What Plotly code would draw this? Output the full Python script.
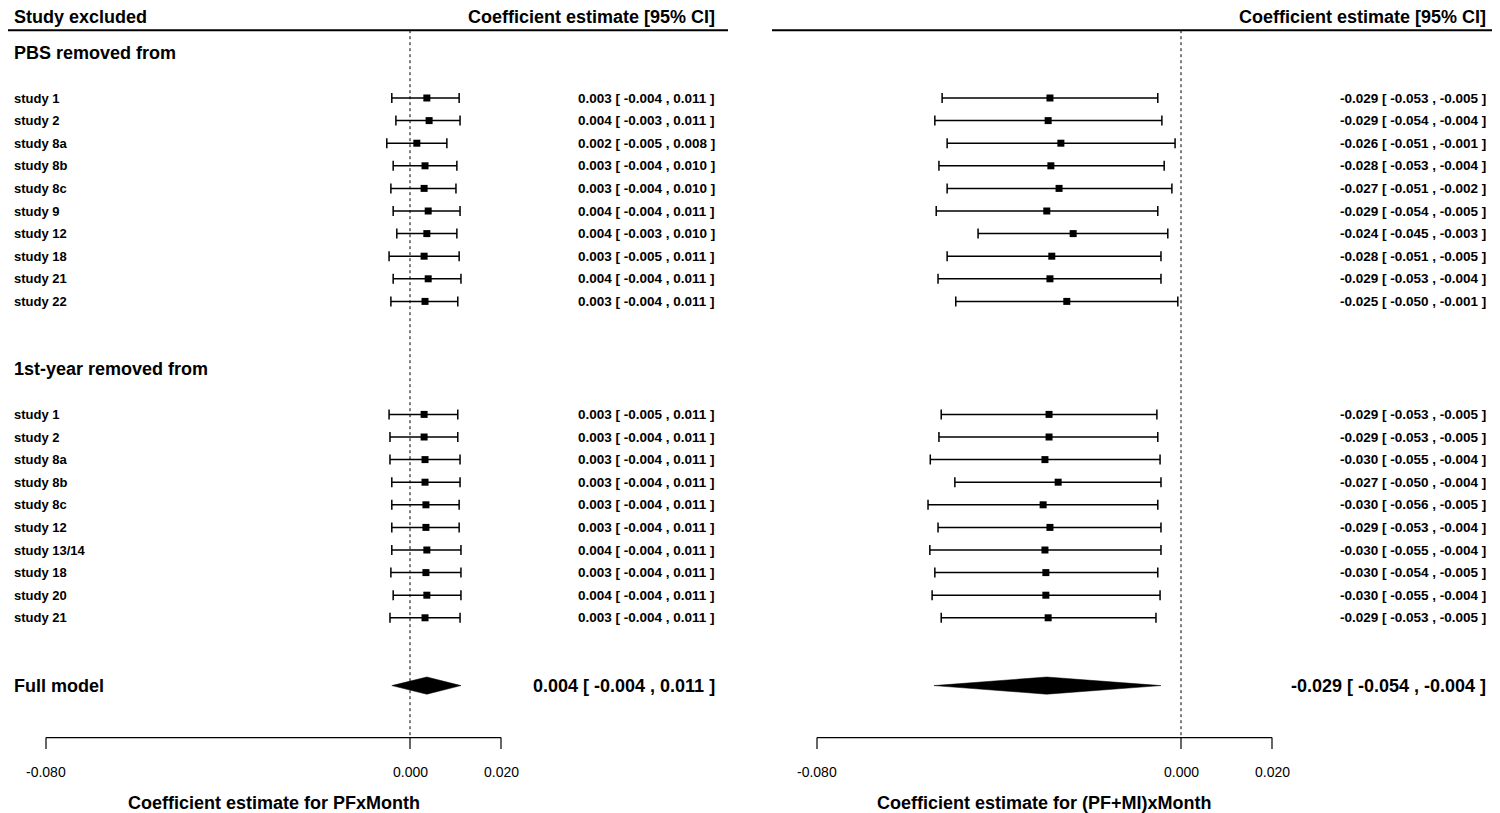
import plotly.graph_objects as go

# row labels
studies_pbs = ["study 1", "study 2", "study 8a", "study 8b", "study 8c",
               "study 9", "study 12", "study 18", "study 21", "study 22"]
studies_year = ["study 1", "study 2", "study 8a", "study 8b", "study 8c",
                "study 12", "study 13/14", "study 18", "study 20", "study 21"]

# left panel: PFxMonth
pf_pbs_est = [0.0037, 0.0042, 0.0015, 0.0033, 0.0031, 0.0040, 0.0037, 0.0031, 0.0040, 0.0033]
pf_pbs_lo = [-0.0040, -0.0031, -0.0051, -0.0037, -0.0042, -0.0037, -0.0029, -0.0046, -0.0037, -0.0042]
pf_pbs_hi = [0.0108, 0.0110, 0.0081, 0.0103, 0.0101, 0.0110, 0.0103, 0.0108, 0.0112, 0.0105]
pf_pbs_txt = ["0.003 [ -0.004 , 0.011 ]", "0.004 [ -0.003 , 0.011 ]", "0.002 [ -0.005 , 0.008 ]",
              "0.003 [ -0.004 , 0.010 ]", "0.003 [ -0.004 , 0.010 ]", "0.004 [ -0.004 , 0.011 ]",
              "0.004 [ -0.003 , 0.010 ]", "0.003 [ -0.005 , 0.011 ]", "0.004 [ -0.004 , 0.011 ]",
              "0.003 [ -0.004 , 0.011 ]"]

pf_year_est = [0.0031, 0.0031, 0.0033, 0.0033, 0.0035, 0.0035, 0.0037, 0.0035, 0.0037, 0.0033]
pf_year_lo = [-0.0046, -0.0044, -0.0044, -0.0040, -0.0040, -0.0040, -0.0040, -0.0042, -0.0037, -0.0044]
pf_year_hi = [0.0105, 0.0105, 0.0110, 0.0110, 0.0108, 0.0108, 0.0112, 0.0112, 0.0112, 0.0110]
pf_year_txt = ["0.003 [ -0.005 , 0.011 ]", "0.003 [ -0.004 , 0.011 ]", "0.003 [ -0.004 , 0.011 ]",
               "0.003 [ -0.004 , 0.011 ]", "0.003 [ -0.004 , 0.011 ]", "0.003 [ -0.004 , 0.011 ]",
               "0.004 [ -0.004 , 0.011 ]", "0.003 [ -0.004 , 0.011 ]", "0.004 [ -0.004 , 0.011 ]",
               "0.003 [ -0.004 , 0.011 ]"]

pf_full = [0.0037, -0.0040, 0.0112]
pf_full_txt = "0.004 [ -0.004 , 0.011 ]"

# right panel: (PF+MI)xMonth
pm_pbs_est = [-0.0288, -0.0292, -0.0264, -0.0286, -0.0268, -0.0295, -0.0237, -0.0284, -0.0288, -0.0251]
pm_pbs_lo = [-0.0525, -0.0541, -0.0514, -0.0532, -0.0514, -0.0538, -0.0446, -0.0514, -0.0534, -0.0495]
pm_pbs_hi = [-0.0051, -0.0042, -0.0013, -0.0037, -0.0020, -0.0051, -0.0029, -0.0044, -0.0044, -0.0007]
pm_pbs_txt = ["-0.029 [ -0.053 , -0.005 ]", "-0.029 [ -0.054 , -0.004 ]", "-0.026 [ -0.051 , -0.001 ]",
              "-0.028 [ -0.053 , -0.004 ]", "-0.027 [ -0.051 , -0.002 ]", "-0.029 [ -0.054 , -0.005 ]",
              "-0.024 [ -0.045 , -0.003 ]", "-0.028 [ -0.051 , -0.005 ]", "-0.029 [ -0.053 , -0.004 ]",
              "-0.025 [ -0.050 , -0.001 ]"]

pm_year_est = [-0.0290, -0.0290, -0.0299, -0.0270, -0.0303, -0.0288, -0.0299, -0.0297, -0.0297, -0.0292]
pm_year_lo = [-0.0527, -0.0532, -0.0551, -0.0497, -0.0556, -0.0534, -0.0552, -0.0541, -0.0547, -0.0527]
pm_year_hi = [-0.0053, -0.0051, -0.0046, -0.0044, -0.0051, -0.0044, -0.0044, -0.0051, -0.0046, -0.0055]
pm_year_txt = ["-0.029 [ -0.053 , -0.005 ]", "-0.029 [ -0.053 , -0.005 ]", "-0.030 [ -0.055 , -0.004 ]",
               "-0.027 [ -0.050 , -0.004 ]", "-0.030 [ -0.056 , -0.005 ]", "-0.029 [ -0.053 , -0.004 ]",
               "-0.030 [ -0.055 , -0.004 ]", "-0.030 [ -0.054 , -0.005 ]", "-0.030 [ -0.055 , -0.004 ]",
               "-0.029 [ -0.053 , -0.005 ]"]

pm_full = [-0.0295, -0.0543, -0.0044]
pm_full_txt = "-0.029 [ -0.054 , -0.004 ]"

tick_vals = [-0.08, 0.0, 0.02]
tick_text = ["-0.080", "0.000", "0.020"]

# row positions (1 unit per row, counted downward)
rows_pbs = list(range(1, 11))
rows_year = list(range(15, 25))
row_full = 27
row_axis = 29.3

FONT = "Liberation Sans, Arial, sans-serif"
PX = 4550.0   # pixels per unit on x
ROW = 22.6    # pixels per row
OFF = 8       # page body margin

fig = go.Figure()
annos = []
shapes = []

panels = [
    dict(xa="x", ya="y", pbs=(pf_pbs_est, pf_pbs_lo, pf_pbs_hi, pf_pbs_txt),
         year=(pf_year_est, pf_year_lo, pf_year_hi, pf_year_txt),
         full=pf_full, full_txt=pf_full_txt, title="Coefficient estimate for PFxMonth", labels=True),
    dict(xa="x2", ya="y2", pbs=(pm_pbs_est, pm_pbs_lo, pm_pbs_hi, pm_pbs_txt),
         year=(pm_year_est, pm_year_lo, pm_year_hi, pm_year_txt),
         full=pm_full, full_txt=pm_full_txt, title="Coefficient estimate for (PF+MI)xMonth", labels=False),
]

for p in panels:
    xa, ya = p["xa"], p["ya"]
    for rows, (est, lo, hi, txt) in [(rows_pbs, p["pbs"]), (rows_year, p["year"])]:
        fig.add_trace(go.Scatter(
            x=est, y=rows, xaxis=xa, yaxis=ya, mode="markers",
            marker=dict(symbol="square", size=7, color="black"),
            error_x=dict(type="data", symmetric=False,
                         array=[h - e for h, e in zip(hi, est)],
                         arrayminus=[e - l for e, l in zip(est, lo)],
                         color="black", thickness=1.5, width=5),
            showlegend=False, hoverinfo="skip"))
        for r, t in zip(rows, txt):
            annos.append(dict(x=0.0675, y=r, xref=xa, yref=ya, text="<b>%s</b>" % t,
                              xanchor="right", showarrow=False, font=dict(size=13.5)))

    est, lo, hi = p["full"]
    fig.add_trace(go.Scatter(
        x=[lo, est, hi, est, lo], y=[row_full, row_full - 0.38, row_full, row_full + 0.38, row_full],
        xaxis=xa, yaxis=ya, mode="lines", fill="toself", fillcolor="black",
        line=dict(color="black", width=0.5), showlegend=False, hoverinfo="skip"))
    annos.append(dict(x=0.0675, y=row_full, xref=xa, yref=ya, text="<b>%s</b>" % p["full_txt"],
                      xanchor="right", showarrow=False, font=dict(size=18)))

    # reference line at zero
    shapes.append(dict(type="line", xref=xa, yref=ya, x0=0, x1=0, y0=-2, y1=row_axis,
                       line=dict(color="black", width=1, dash="dot")))
    # hand-drawn x axis
    shapes.append(dict(type="line", xref=xa, yref=ya, x0=tick_vals[0], x1=tick_vals[-1],
                       y0=row_axis, y1=row_axis, line=dict(color="black", width=1.2)))
    for tv, tt in zip(tick_vals, tick_text):
        shapes.append(dict(type="line", xref=xa, yref=ya, x0=tv, x1=tv,
                           y0=row_axis, y1=row_axis + 0.5, line=dict(color="black", width=1.2)))
        annos.append(dict(x=tv, y=30.82, xref=xa, yref=ya, text=tt, showarrow=False,
                          font=dict(size=14)))
    annos.append(dict(x=(tick_vals[0] + tick_vals[-1]) / 2, y=32.2, xref=xa, yref=ya,
                      text="<b>%s</b>" % p["title"], showarrow=False, font=dict(size=18)))
    # column header sits at the very top edge
    annos.append(dict(x=0.0675, y=1, xref=xa, yref="paper", text="<b>Coefficient estimate [95% CI]</b>",
                      xanchor="right", yanchor="top", yshift=3, showarrow=False, font=dict(size=18)))

    if p["labels"]:
        annos.append(dict(x=-0.0875, y=1, xref=xa, yref="paper", text="<b>Study excluded</b>",
                          xanchor="left", yanchor="top", yshift=3, showarrow=False, font=dict(size=18)))
        annos.append(dict(x=-0.0875, y=-1, xref=xa, yref=ya, text="<b>PBS removed from</b>",
                          xanchor="left", showarrow=False, font=dict(size=18)))
        annos.append(dict(x=-0.0875, y=13, xref=xa, yref=ya, text="<b>1st-year removed from</b>",
                          xanchor="left", showarrow=False, font=dict(size=18)))
        annos.append(dict(x=-0.0875, y=row_full, xref=xa, yref=ya, text="<b>Full model</b>",
                          xanchor="left", showarrow=False, font=dict(size=18)))
        for rows, names in [(rows_pbs, studies_pbs), (rows_year, studies_year)]:
            for r, n in zip(rows, names):
                annos.append(dict(x=-0.0875, y=r, xref=xa, yref=ya, text="<b>%s</b>" % n,
                                  xanchor="left", showarrow=False, font=dict(size=13)))

# header rules
shapes.append(dict(type="line", xref="paper", yref="y", x0=0, x1=(728 - OFF) / 1500, y0=-2, y1=-2,
                   line=dict(color="black", width=2)))
shapes.append(dict(type="line", xref="paper", yref="y", x0=(772 - OFF) / 1500, x1=1, y0=-2, y1=-2,
                   line=dict(color="black", width=2)))

top = 98 - OFF
yrange = [1 + (813 - top) / ROW, 1 - top / ROW]
fig.update_layout(
    width=1500, height=813,
    margin=dict(l=0, r=0, t=0, b=0),
    paper_bgcolor="white", plot_bgcolor="white",
    font=dict(family=FONT, color="black"),
    xaxis=dict(domain=[0, 730 / 1500], range=[-(410 - OFF) / PX, (730 - 410 + OFF) / PX], visible=False),
    xaxis2=dict(domain=[770 / 1500, 1], range=[-(1181 - OFF - 770) / PX, (1500 - 1181 + OFF) / PX],
                visible=False),
    yaxis=dict(range=yrange, visible=False),
    yaxis2=dict(range=yrange, visible=False, anchor="x2"),
    annotations=annos, shapes=shapes,
)

fig.write_html("out.html")
